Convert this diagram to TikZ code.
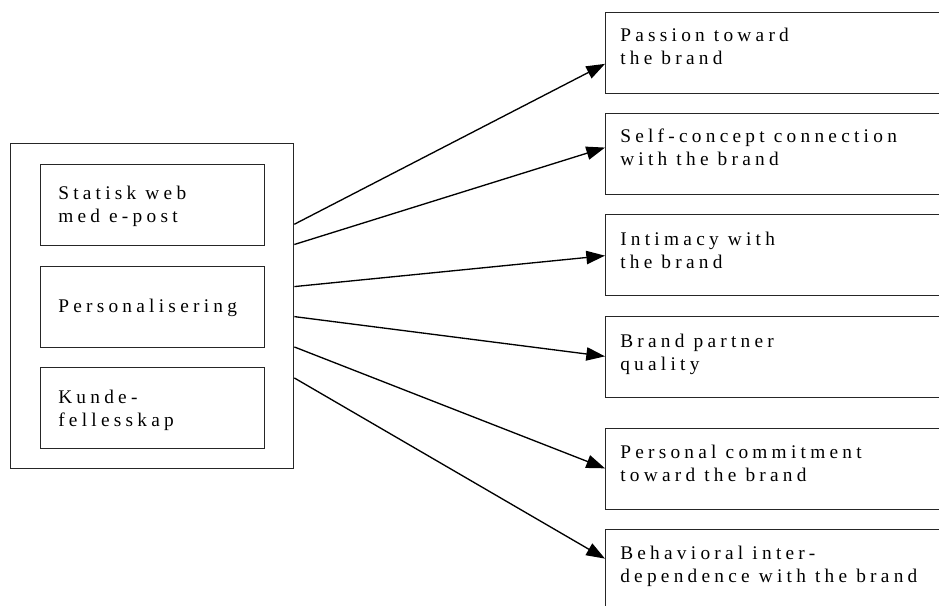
\documentclass[tikz,border=0pt]{standalone}
\usepackage{fontspec}
\setmainfont{Liberation Serif}[LetterSpace=22]
\usetikzlibrary{arrows.meta, calc}

\tikzset{
  box/.style={draw=black!85, line width=1pt, anchor=north west, inner sep=0pt},
  inbox/.style={box, minimum width=168pt, minimum height=60.75pt},
  outbox/.style={box, minimum width=280pt, minimum height=60.75pt},
  txt/.style={anchor=base west, inner sep=0pt, align=left, font=\fontsize{14.5}{17.25}\selectfont},
  link/.style={-{Triangle[length=14pt,width=10pt]}, line width=1pt}
}

\begin{document}
\begin{tikzpicture}[x=0.75pt, y=-0.75pt]
    \clip (0,0) rectangle (939,606);

    % left block
    \node[box, minimum width=212.25pt, minimum height=243.75pt] (outer) at (10,143) {};
    \node[inbox] (web) at (40,164) {};
    \node[inbox] (pers) at (40,266) {};
    \node[inbox] (kunde) at (40,367) {};
    % text nodes sit on the baseline of their last line
    \node[txt] (tweb) at (58,223) {Statisk web\\med e-post};
    \node[txt] (tpers) at (58,312) {Personalisering};
    \node[txt] (tkunde) at (58,426) {Kunde-\\fellesskap};

    % right column
    \node[outbox] (r1) at (605,12) {};
    \node[outbox] (r2) at (605,113) {};
    \node[outbox] (r3) at (605,214) {};
    \node[outbox] (r4) at (605,316) {};
    \node[outbox] (r5) at (605,428) {};
    \node[outbox] (r6) at (605,529) {};
    \node[txt] (t1) at (620,65) {Passion toward\\the brand};
    \node[txt] (t2) at (620,166) {Self-concept connection\\with the brand};
    \node[txt] (t3) at (620,268) {Intimacy with\\the brand};
    \node[txt] (t4) at (620,370) {Brand partner\\quality};
    \node[txt] (t5) at (620,481) {Personal commitment\\toward the brand};
    \node[txt] (t6) at (620,582) {Behavioral inter-\\dependence with the brand};

    % arrows
    \draw[link] ($(outer.north east)!0.249!(outer.south east)$) -- ($(r1.north west)!0.63!(r1.south west)$);
    \draw[link] ($(outer.north east)!0.311!(outer.south east)$) -- ($(r2.north west)!0.42!(r2.south west)$);
    \draw[link] ($(outer.north east)!0.44!(outer.south east)$) -- ($(r3.north west)!0.506!(r3.south west)$);
    \draw[link] ($(outer.north east)!0.532!(outer.south east)$) -- ($(r4.north west)!0.49!(r4.south west)$);
    \draw[link] ($(outer.north east)!0.625!(outer.south east)$) -- ($(r5.north west)!0.49!(r5.south west)$);
    \draw[link] ($(outer.north east)!0.72!(outer.south east)$) -- ($(r6.north west)!0.36!(r6.south west)$);
\end{tikzpicture}
\end{document}
